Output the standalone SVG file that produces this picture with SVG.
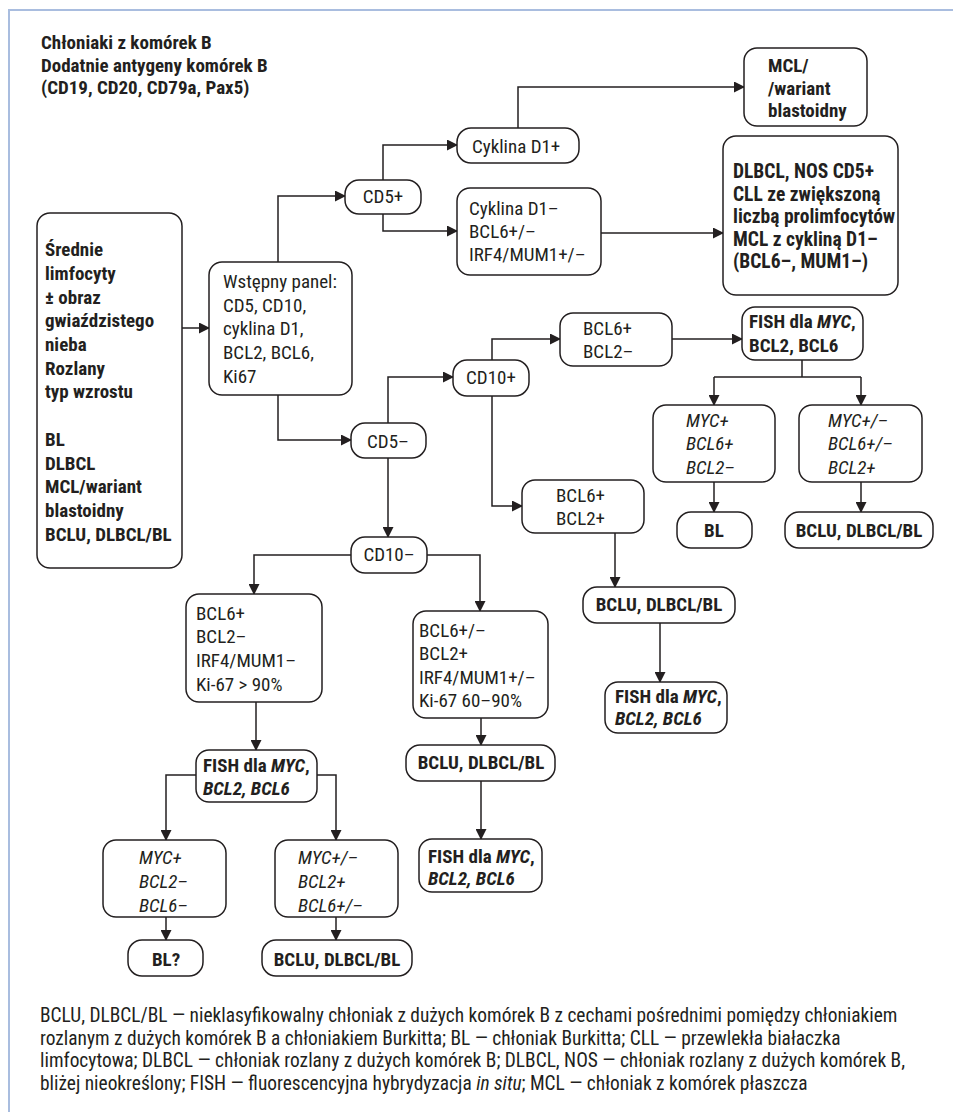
<svg xmlns="http://www.w3.org/2000/svg" width="953" height="1112" viewBox="0 0 953 1112">
<style>
.t{font-family:'Liberation Sans Narrow','Roboto Condensed','DejaVu Sans Condensed','Liberation Sans',sans-serif;font-size:19px;fill:#231f20}
.b{font-weight:bold}
.i{font-style:italic}
.c{text-anchor:middle}
.lg{font-size:19.4px}
.box{fill:#fff;stroke:#231f20;stroke-width:1.5}
.ln{fill:none;stroke:#231f20;stroke-width:1.5}
.ar{marker-end:url(#ah)}
</style>
<defs>
<marker id="ah" markerUnits="userSpaceOnUse" markerWidth="11" markerHeight="11" refX="10" refY="5.5" orient="auto"><path d="M0,0 L11,5.5 L0,11 z" fill="#231f20"/></marker>
</defs>
<rect width="953" height="1112" fill="#fff"/>
<g id="frame" fill="none" stroke="#a9bddf" stroke-width="2"><path d="M9,1112 V10 H953"/></g>
<g id="title" class="t b"><text x="41" y="49">Chłoniaki z komórek B</text><text x="41" y="72">Dodatnie antygeny komórek B</text><text x="41" y="94">(CD19, CD20, CD79a, Pax5)</text></g>

<g id="connectors">
<path class="ln ar" d="M182,328 H209"/>
<path class="ln ar" d="M278,262 V196 H345"/>
<path class="ln ar" d="M383,180 V145 H457"/>
<path class="ln ar" d="M383,214 V231 H457"/>
<path class="ln ar" d="M518,128 V87 H744"/>
<path class="ln ar" d="M601,233 H723"/>
<path class="ln ar" d="M278,395 V440 H351"/>
<path class="ln ar" d="M388,423 V377 H453"/>
<path class="ln ar" d="M388,458 V537"/>
<path class="ln ar" d="M492,360 V339 H560"/>
<path class="ln ar" d="M492,396 V506 H522"/>
<path class="ln ar" d="M672,339 H742"/>
<path class="ln" d="M802,360 V377 M714,377 H861"/>
<path class="ln ar" d="M714,377 V405"/>
<path class="ln ar" d="M861,377 V405"/>
<path class="ln ar" d="M714,482 V512"/>
<path class="ln ar" d="M861,482 V512"/>
<path class="ln ar" d="M615,533 V587"/>
<path class="ln ar" d="M660,623 V682"/>
<path class="ln ar" d="M351,555 H254 V594"/>
<path class="ln ar" d="M427,555 H480 V611"/>
<path class="ln ar" d="M256,702 V750"/>
<path class="ln ar" d="M481,718 V745"/>
<path class="ln ar" d="M481,781 V839"/>
<path class="ln ar" d="M196,775 H166 V840"/>
<path class="ln ar" d="M317,775 H336 V840"/>
<path class="ln ar" d="M166,917 V940"/>
<path class="ln ar" d="M336,917 V940"/>
</g>

<g id="n-start"><rect class="box" x="37" y="213" width="145" height="355" rx="13"/>
<text class="t b" x="45"><tspan x="45" y="256">Średnie</tspan><tspan x="45" y="280">limfocyty</tspan><tspan x="45" y="304">± obraz</tspan><tspan x="45" y="327">gwiaździstego</tspan><tspan x="45" y="351">nieba</tspan><tspan x="45" y="375">Rozlany</tspan><tspan x="45" y="398">typ wzrostu</tspan><tspan x="45" y="446">BL</tspan><tspan x="45" y="470">DLBCL</tspan><tspan x="45" y="493">MCL/wariant</tspan><tspan x="45" y="517">blastoidny</tspan><tspan x="45" y="541">BCLU, DLBCL/BL</tspan></text></g>

<g id="n-panel"><rect class="box" x="209" y="262" width="143" height="133" rx="13"/>
<text class="t"><tspan x="223" y="288">Wstępny panel:</tspan><tspan x="223" y="312">CD5, CD10,</tspan><tspan x="223" y="335">cyklina D1,</tspan><tspan x="223" y="359">BCL2, BCL6,</tspan><tspan x="223" y="383">Ki67</tspan></text></g>

<g id="n-cd5p"><rect class="box" x="345" y="180" width="76" height="34" rx="14"/><text class="t c" x="383" y="203">CD5+</text></g>
<g id="n-cykp"><rect class="box" x="457" y="128" width="122" height="35" rx="14"/><text class="t" x="472" y="153">Cyklina D1+</text></g>
<g id="n-cykm"><rect class="box" x="457" y="188" width="144" height="87" rx="13"/>
<text class="t"><tspan x="469" y="215">Cyklina D1–</tspan><tspan x="469" y="238">BCL6+/–</tspan><tspan x="469" y="261">IRF4/MUM1+/–</tspan></text></g>
<g id="n-mcl"><rect class="box" x="744" y="48" width="123" height="78" rx="13"/>
<text class="t b"><tspan x="768" y="72">MCL/</tspan><tspan x="768" y="95">/wariant</tspan><tspan x="768" y="117">blastoidny</tspan></text></g>
<g id="n-dlbcl"><rect class="box" x="723" y="136" width="175" height="159" rx="13"/>
<text class="t b" style="font-size:19.5px"><tspan x="733" y="178">DLBCL, NOS CD5+</tspan><tspan x="733" y="201">CLL ze zwiększoną</tspan><tspan x="733" y="223">liczbą prolimfocytów</tspan><tspan x="733" y="246">MCL z cykliną D1–</tspan><tspan x="733" y="268">(BCL6–, MUM1–)</tspan></text></g>

<g id="n-cd5m"><rect class="box" x="351" y="423" width="75" height="35" rx="14"/><text class="t c" x="388" y="448">CD5–</text></g>
<g id="n-cd10p"><rect class="box" x="453" y="360" width="76" height="36" rx="14"/><text class="t c" x="491" y="384">CD10+</text></g>
<g id="n-cd10m"><rect class="box" x="351" y="537" width="76" height="36" rx="14"/><text class="t c" x="389" y="561">CD10–</text></g>

<g id="n-b6p2m"><rect class="box" x="560" y="313" width="112" height="53" rx="13"/>
<text class="t"><tspan x="583" y="335">BCL6+</tspan><tspan x="583" y="358">BCL2–</tspan></text></g>
<g id="n-fish1"><rect class="box" x="742" y="307" width="121" height="53" rx="13"/>
<text class="t b"><tspan x="749" y="328">FISH dla <tspan class="i">MYC</tspan>,</tspan><tspan x="749" y="352">BCL2, BCL6</tspan></text></g>
<g id="n-myc1"><rect class="box" x="653" y="405" width="122" height="77" rx="13"/>
<text class="t i"><tspan x="686" y="427">MYC+</tspan><tspan x="686" y="450">BCL6+</tspan><tspan x="686" y="474">BCL2–</tspan></text></g>
<g id="n-myc2"><rect class="box" x="799" y="405" width="123" height="77" rx="13"/>
<text class="t i"><tspan x="828" y="427">MYC+/–</tspan><tspan x="828" y="450">BCL6+/–</tspan><tspan x="828" y="474">BCL2+</tspan></text></g>
<g id="n-bl1"><rect class="box" x="677" y="512" width="75" height="36" rx="14"/><text class="t b c" x="714" y="537">BL</text></g>
<g id="n-bclu1"><rect class="box" x="785" y="512" width="148" height="36" rx="14"/><text class="t b c" x="859" y="537">BCLU, DLBCL/BL</text></g>

<g id="n-b6p2p"><rect class="box" x="522" y="480" width="122" height="53" rx="13"/>
<text class="t"><tspan x="556" y="502">BCL6+</tspan><tspan x="556" y="525">BCL2+</tspan></text></g>
<g id="n-bclu2"><rect class="box" x="583" y="587" width="152" height="36" rx="14"/><text class="t b c" x="659" y="611">BCLU, DLBCL/BL</text></g>
<g id="n-fish2"><rect class="box" x="605" y="682" width="122" height="51" rx="13"/>
<text class="t b"><tspan x="615" y="703">FISH dla <tspan class="i">MYC</tspan>,</tspan><tspan class="i" x="615" y="725">BCL2, BCL6</tspan></text></g>

<g id="n-left1"><rect class="box" x="186" y="594" width="136" height="108" rx="13"/>
<text class="t"><tspan x="196" y="620">BCL6+</tspan><tspan x="196" y="643">BCL2–</tspan><tspan x="196" y="667">IRF4/MUM1–</tspan><tspan x="196" y="691">Ki-67 &gt; 90%</tspan></text></g>
<g id="n-right1"><rect class="box" x="413" y="611" width="135" height="107" rx="13"/>
<text class="t"><tspan x="419" y="637">BCL6+/–</tspan><tspan x="419" y="660">BCL2+</tspan><tspan x="419" y="684">IRF4/MUM1+/–</tspan><tspan x="419" y="707">Ki-67 60–90%</tspan></text></g>
<g id="n-fish3"><rect class="box" x="196" y="750" width="121" height="52" rx="13"/>
<text class="t b"><tspan x="203" y="772">FISH dla <tspan class="i">MYC</tspan>,</tspan><tspan class="i" x="203" y="795">BCL2, BCL6</tspan></text></g>
<g id="n-bclu3"><rect class="box" x="406" y="745" width="149" height="36" rx="14"/><text class="t b c" x="481" y="769">BCLU, DLBCL/BL</text></g>
<g id="n-fish4"><rect class="box" x="419" y="839" width="123" height="53" rx="13"/>
<text class="t b"><tspan x="428" y="863">FISH dla <tspan class="i">MYC</tspan>,</tspan><tspan class="i" x="428" y="885">BCL2, BCL6</tspan></text></g>
<g id="n-myc3"><rect class="box" x="103" y="840" width="123" height="77" rx="13"/>
<text class="t i"><tspan x="139" y="864">MYC+</tspan><tspan x="139" y="888">BCL2–</tspan><tspan x="139" y="912">BCL6–</tspan></text></g>
<g id="n-myc4"><rect class="box" x="275" y="840" width="123" height="77" rx="13"/>
<text class="t i"><tspan x="298" y="864">MYC+/–</tspan><tspan x="298" y="888">BCL2+</tspan><tspan x="298" y="912">BCL6+/–</tspan></text></g>
<g id="n-bl2"><rect class="box" x="128" y="940" width="75" height="36" rx="14"/><text class="t b c" x="166" y="966">BL?</text></g>
<g id="n-bclu4"><rect class="box" x="262" y="940" width="150" height="36" rx="14"/><text class="t b c" x="337" y="966">BCLU, DLBCL/BL</text></g>

<g id="legend" class="t lg">
<text x="40" y="1022">BCLU, DLBCL/BL — nieklasyfikowalny chłoniak z dużych komórek B z cechami pośrednimi pomiędzy chłoniakiem</text>
<text x="40" y="1044.5">rozlanym z dużych komórek B a chłoniakiem Burkitta; BL — chłoniak Burkitta; CLL — przewlekła białaczka</text>
<text x="40" y="1067">limfocytowa; DLBCL — chłoniak rozlany z dużych komórek B; DLBCL, NOS — chłoniak rozlany z dużych komórek B,</text>
<text x="40" y="1089.5">bliżej nieokreślony; FISH — fluorescencyjna hybrydyzacja <tspan class="i">in situ</tspan>; MCL — chłoniak z komórek płaszcza</text>
</g>
</svg>
